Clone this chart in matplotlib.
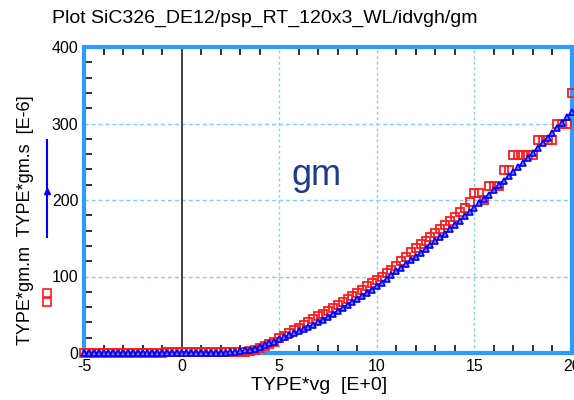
import matplotlib
matplotlib.use("Agg")
import matplotlib.pyplot as plt
from matplotlib.lines import Line2D
from matplotlib.ticker import MultipleLocator

plt.rcParams['font.family'] = ['Liberation Sans', 'DejaVu Sans']

title = "Plot SiC326_DE12/psp_RT_120x3_WL/idvgh/gm"
xlabel = "TYPE*vg  [E+0]"
ylabel = "TYPE*gm.m  TYPE*gm.s  [E-6]"
xticks = [-5, 0, 5, 10, 15, 20]
yticks = [0, 100, 200, 300, 400]

vg = [-5.0, -4.75, -4.5, -4.25, -4.0, -3.75, -3.5, -3.25, -3.0, -2.75,
      -2.5, -2.25, -2.0, -1.75, -1.5, -1.25, -1.0, -0.75, -0.5, -0.25,
      0.0, 0.25, 0.5, 0.75, 1.0, 1.25, 1.5, 1.75, 2.0, 2.25,
      2.5, 2.75, 3.0, 3.25, 3.5, 3.75, 4.0, 4.25, 4.5, 4.75,
      5.0, 5.25, 5.5, 5.75, 6.0, 6.25, 6.5, 6.75, 7.0, 7.25,
      7.5, 7.75, 8.0, 8.25, 8.5, 8.75, 9.0, 9.25, 9.5, 9.75,
      10.0, 10.25, 10.5, 10.75, 11.0, 11.25, 11.5, 11.75, 12.0, 12.25,
      12.5, 12.75, 13.0, 13.25, 13.5, 13.75, 14.0, 14.25, 14.5, 14.75,
      15.0, 15.25, 15.5, 15.75, 16.0, 16.25, 16.5, 16.75, 17.0, 17.25,
      17.5, 17.75, 18.0, 18.25, 18.5, 18.75, 19.0, 19.25, 19.5, 19.75,
      20.0]

gm_s = [0.2, 0.2, 0.2, 0.2, 0.2, 0.2, 0.2, 0.2, 0.2, 0.2,
        0.2, 0.2, 0.2, 0.2, 0.2, 0.2, 0.2, 0.2, 0.2, 0.2,
        0.4, 0.4, 0.4, 0.4, 0.4, 0.4, 0.4, 0.4, 0.4, 0.6,
        1.0, 1.6, 2.4, 3.3, 4.4, 5.7, 8.0, 10.0, 12.5, 15.0,
        18.0, 20.5, 23.0, 25.5, 28.5, 31.0, 34.0, 37.0, 40.0, 43.5,
        47.0, 51.0, 55.0, 59.0, 63.0, 67.0, 71.0, 75.0, 79.0, 83.0,
        87.0, 92.0, 97.0, 102.0, 107.0, 111.5, 116.0, 121.0, 126.0, 131.0,
        136.0, 141.0, 146.0, 151.0, 156.0, 161.5, 167.0, 173.0, 179.0, 184.5,
        190.0, 196.0, 201.5, 207.0, 213.0, 219.0, 225.0, 231.0, 237.0, 243.0,
        249.0, 255.5, 262.0, 268.5, 275.0, 281.5, 288.0, 294.5, 301.0, 308.0,
        315.0]

gm_m = [0.0, 0.0, 0.0, 0.0, 0.0, 0.0, 0.0, 0.0, 0.0, 0.0,
        0.0, 0.0, 0.0, 0.0, 0.0, 0.0, 0.0, 1.5, 1.5, 1.5,
        1.5, 1.5, 1.5, 1.5, 1.5, 1.5, 1.5, 1.5, 1.5, 1.5,
        1.2, 1.0, 1.0, 1.5, 2.5, 4.0, 6.0, 8.5, 11.5, 15.0,
        19.0, 22.5, 26.0, 29.5, 33.0, 37.0, 41.0, 44.5, 48.0, 51.5,
        55.0, 59.0, 63.0, 67.0, 71.0, 75.0, 79.0, 83.0, 87.0, 91.0,
        95.0, 99.5, 104.0, 109.0, 114.0, 120.0, 126.0, 131.5, 137.0, 142.0,
        147.0, 152.0, 157.0, 162.0, 167.0, 172.5, 178.0, 184.0, 190.0, 198.0,
        209.0, 209.0, 200.0, 218.0, 218.0, 218.0, 239.0, 239.0, 259.0, 259.0,
        259.0, 259.0, 259.0, 278.0, 278.0, 278.0, 278.0, 299.0, 299.0, 299.0,
        340.0]

fig = plt.figure(figsize=(5.74, 4.0), dpi=100)
ax = fig.add_axes([84/574, 1 - 353/400, (572-84)/574, (353-47)/400])

spine_col = "#2e9bff"
grid_col = "#7fd0ff"

ax.set_xlim(-5, 20)
ax.set_ylim(0, 400)

for xv in [5, 10, 15]:
    ax.axvline(xv, color=grid_col, lw=1.0, ls=(0, (2, 2)), zorder=1)
for yv in [100, 200, 300]:
    ax.axhline(yv, color=grid_col, lw=1.0, ls=(0, (3, 2)), zorder=1)
ax.axvline(0, color="#333333", lw=1.3, zorder=1.5)

ax.plot(vg, gm_m, ls='none', marker='s', ms=6, mfc='none', mec='#ff1a1a',
        mew=1.3, zorder=3, clip_on=False)
ax.plot(vg, gm_s, color='#0000ff', lw=1.4, marker='^', ms=5, mfc='#8080ff',
        mec='#0000ff', mew=1.2, zorder=4, clip_on=False)

ax.text(6.9, 232, "gm", color="#1f3a8a", fontsize=26, ha='center', va='center')

for s in ax.spines.values():
    s.set_color(spine_col)
    s.set_linewidth(3)

ax.set_xticks(xticks)
ax.set_yticks(yticks)
ax.set_xticklabels([str(t) for t in xticks], fontsize=11.5)
ax.set_yticklabels([str(t) for t in yticks], fontsize=11.5)
ax.xaxis.set_minor_locator(MultipleLocator(1))
ax.yaxis.set_minor_locator(MultipleLocator(20))
ax.tick_params(axis='both', which='major', length=0, pad=4)
ax.tick_params(axis='x', which='minor', direction='in', length=6, width=1.3,
               color='#222222', top=True, bottom=True)
ax.tick_params(axis='y', which='minor', direction='in', length=6, width=1.3,
               color='#222222', left=True, right=False)

fig.text(265/574, 1 - 18/400, title, ha='center', va='center', fontsize=14)
fig.text(319/574, 1 - 385/400, xlabel, ha='center', va='center', fontsize=14)
fig.text(26/574, 1 - 220/400, ylabel, ha='center', va='center', fontsize=13,
         rotation=90)

# legend glyphs in the left margin
fig.add_artist(Line2D([47/574, 47/574], [1 - 140/400, 1 - 237/400],
                      color='#0000ff', lw=1.5, transform=fig.transFigure))
fig.add_artist(Line2D([47/574], [1 - 191/400], marker='^', ms=5,
                      color='#0000ff', transform=fig.transFigure))
fig.add_artist(Line2D([47/574, 47/574], [1 - 293/400, 1 - 302/400], ls='none',
                      marker='s', ms=5.5, mfc='none', mec='#ff1a1a', mew=1.2,
                      transform=fig.transFigure))

fig.savefig("out.png", dpi=100)
